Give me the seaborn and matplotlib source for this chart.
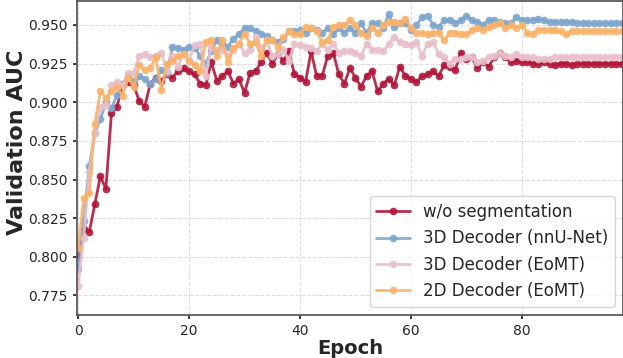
import numpy as np
import pandas as pd
import matplotlib
matplotlib.use("Agg")
import matplotlib.pyplot as plt
import seaborn as sns

epochs = np.arange(99)

wo_seg = [0.800, 0.818, 0.816, 0.834, 0.852, 0.844, 0.893, 0.897, 0.912, 0.913,
          0.911, 0.901, 0.897, 0.912, 0.916, 0.914, 0.918, 0.916, 0.920, 0.922,
          0.920, 0.918, 0.912, 0.911, 0.926, 0.914, 0.917, 0.920, 0.912, 0.915,
          0.906, 0.919, 0.920, 0.926, 0.932, 0.925, 0.931, 0.927, 0.933, 0.918,
          0.916, 0.913, 0.933, 0.917, 0.917, 0.930, 0.932, 0.918, 0.912, 0.922,
          0.916, 0.910, 0.917, 0.920, 0.907, 0.912, 0.915, 0.911, 0.923, 0.917,
          0.915, 0.913, 0.917, 0.918, 0.920, 0.917, 0.924, 0.923, 0.921, 0.932,
          0.928, 0.929, 0.922, 0.926, 0.923, 0.929, 0.932, 0.929, 0.926, 0.927,
          0.926, 0.926, 0.925, 0.925, 0.926, 0.925, 0.924, 0.925, 0.925, 0.924,
          0.925, 0.925, 0.925, 0.925, 0.925, 0.925, 0.925, 0.925, 0.925]

dec3d_nnunet = [0.792, 0.823, 0.859, 0.880, 0.889, 0.900, 0.896, 0.905, 0.912, 0.917,
                0.914, 0.917, 0.915, 0.912, 0.915, 0.921, 0.919, 0.936, 0.935, 0.934,
                0.936, 0.935, 0.930, 0.925, 0.933, 0.940, 0.938, 0.936, 0.941, 0.944,
                0.948, 0.948, 0.946, 0.944, 0.943, 0.940, 0.939, 0.941, 0.946, 0.946,
                0.947, 0.945, 0.948, 0.947, 0.945, 0.948, 0.944, 0.948, 0.945, 0.948,
                0.945, 0.951, 0.945, 0.951, 0.951, 0.948, 0.957, 0.949, 0.951, 0.951,
                0.947, 0.950, 0.955, 0.956, 0.950, 0.949, 0.953, 0.953, 0.951, 0.953,
                0.956, 0.953, 0.952, 0.950, 0.953, 0.953, 0.952, 0.951, 0.951, 0.955,
                0.953, 0.953, 0.953, 0.954, 0.953, 0.952, 0.952, 0.952, 0.952, 0.952,
                0.951, 0.951, 0.951, 0.951, 0.951, 0.951, 0.951, 0.951, 0.951]

dec3d_eomt = [0.781, 0.812, 0.855, 0.880, 0.897, 0.898, 0.911, 0.913, 0.911, 0.919,
              0.919, 0.930, 0.931, 0.929, 0.930, 0.932, 0.920, 0.930, 0.923, 0.931,
              0.927, 0.937, 0.938, 0.917, 0.936, 0.934, 0.934, 0.930, 0.934, 0.938,
              0.932, 0.934, 0.942, 0.935, 0.940, 0.930, 0.931, 0.934, 0.927, 0.938,
              0.937, 0.936, 0.935, 0.933, 0.938, 0.934, 0.938, 0.932, 0.933, 0.933,
              0.932, 0.930, 0.938, 0.934, 0.934, 0.933, 0.938, 0.942, 0.939, 0.938,
              0.937, 0.939, 0.930, 0.938, 0.939, 0.931, 0.929, 0.925, 0.928, 0.928,
              0.929, 0.929, 0.926, 0.927, 0.929, 0.930, 0.932, 0.930, 0.929, 0.931,
              0.929, 0.929, 0.929, 0.928, 0.928, 0.928, 0.929, 0.929, 0.929, 0.929,
              0.929, 0.929, 0.929, 0.929, 0.929, 0.929, 0.929, 0.929, 0.929]

dec2d_eomt = [0.806, 0.838, 0.841, 0.886, 0.907, 0.903, 0.907, 0.910, 0.904, 0.916,
              0.910, 0.924, 0.921, 0.922, 0.929, 0.908, 0.925, 0.927, 0.930, 0.931,
              0.927, 0.924, 0.920, 0.939, 0.940, 0.930, 0.940, 0.926, 0.935, 0.938,
              0.944, 0.938, 0.939, 0.930, 0.940, 0.940, 0.936, 0.942, 0.946, 0.944,
              0.944, 0.949, 0.948, 0.946, 0.939, 0.940, 0.949, 0.950, 0.950, 0.953,
              0.950, 0.945, 0.943, 0.948, 0.945, 0.950, 0.952, 0.952, 0.951, 0.954,
              0.948, 0.945, 0.945, 0.944, 0.945, 0.945, 0.940, 0.945, 0.945, 0.944,
              0.944, 0.947, 0.948, 0.947, 0.949, 0.950, 0.951, 0.948, 0.950, 0.948,
              0.950, 0.945, 0.944, 0.947, 0.947, 0.947, 0.947, 0.946, 0.944, 0.946,
              0.946, 0.946, 0.946, 0.946, 0.946, 0.946, 0.946, 0.946, 0.946]

labels = ["w/o segmentation", "3D Decoder (nnU-Net)", "3D Decoder (EoMT)", "2D Decoder (EoMT)"]
colors = ["#b2163a", "#7ea6cd", "#e8bfcb", "#fbb26a"]
series = [wo_seg, dec3d_nnunet, dec3d_eomt, dec2d_eomt]

sns.set_theme(style="ticks")
plt.rcParams['font.family'] = ['DejaVu Sans']

fig, ax = plt.subplots(figsize=(6.23, 3.58), dpi=100)
fig.subplots_adjust(left=0.1228, right=1.0005, bottom=0.12, top=0.9985)

for lab, col, vals in zip(labels, colors, series):
    df = pd.DataFrame({"Epoch": epochs, "AUC": vals})
    sns.lineplot(data=df, x="Epoch", y="AUC", ax=ax, color=col, label=lab,
                 marker="o", markersize=5.5, linewidth=2, alpha=0.9,
                 markeredgecolor=col, markeredgewidth=0)

ax.set_xlim(-0.3, 98.3)
ax.set_ylim(0.7623, 0.9658)
ax.set_xticks([0, 20, 40, 60, 80])
yt = np.arange(0.775, 0.951, 0.025)
ax.set_yticks(yt)
ax.set_yticklabels([f"{v:.3f}" for v in yt])
ax.tick_params(labelsize=10, length=3)
ax.grid(True, linestyle="--", color="#dddddd", linewidth=0.8)
for s in ax.spines.values():
    s.set_color("#555555")

ax.set_xlabel("Epoch", fontsize=14, fontweight="bold", labelpad=1)
ax.set_ylabel("Validation AUC", fontsize=16, fontweight="bold")
ax.yaxis.set_label_coords(-0.09, 0.55)
ax.legend(loc="lower right", fontsize=12, frameon=True)

plt.savefig("out.png", dpi=100)
